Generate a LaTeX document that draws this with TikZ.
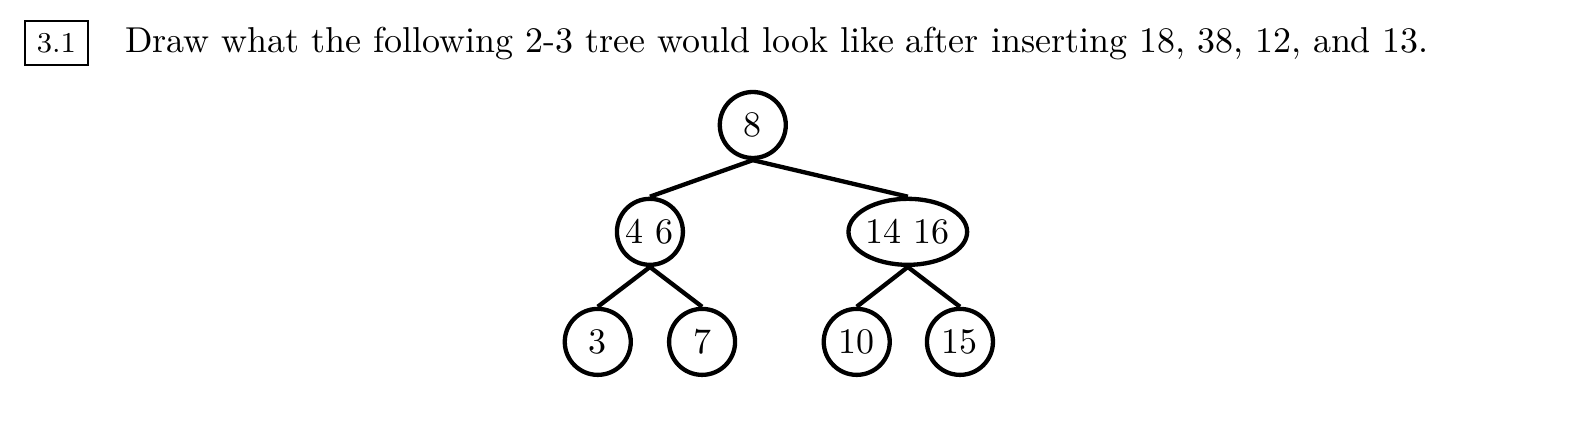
\documentclass[tikz,border=0pt]{standalone}
\usepackage{amsmath, amssymb}
\usetikzlibrary{positioning,shapes}

\begin{document}
\begin{tikzpicture}[
		num/.style={rectangle, draw, thin, font=\footnotesize},
		key/.style={circle, draw, very thick, minimum size = 18.35pt, inner sep = 0pt},
		keys/.style={ellipse, draw, very thick, minimum width = 32.8pt, minimum height = 18.35pt, inner sep = 0pt},
		onlevel/.style={on grid},
		]
		\useasboundingbox (0,0) rectangle (442.9pt,-124pt);

		%Question
		\node[num]	(qnum)	at (15.7pt,-11.95pt)	{3.1};
		\node[inner sep = 0pt]	(qtext)	[base right=9.9pt of qnum]	{Draw what the following 2-3 tree would look like after inserting 18, 38, 12, and 13.};

		%Main Nodes
		\node[key]	(root)	at (209.3pt,-34.75pt)	{8};
		\node[key, onlevel]	(n46)	[below left=29.7pt and 28.6pt of root]	{4 6};
		\node[keys, onlevel]	(n1416)	[below right=29.7pt and 43.1pt of root]	{14 16};
		\draw[very thick]	(root.south)	--	(n46.north);
		\draw[very thick]	(root.south)	--	(n1416.north);

		%Leaves
		\node[key, onlevel]	(n3)	[below left=30.6pt and 14.5pt of n46]	{3};
		\node[key, onlevel]	(n7)	[below right=30.6pt and 14.5pt of n46]	{7};
		\node[key, onlevel]	(n10)	[below left=30.6pt and 14.2pt of n1416]	{10};
		\node[key, onlevel]	(n15)	[below right=30.6pt and 14.5pt of n1416]	{15};
		\draw[very thick]	(n46.south)	--	(n3.north);
		\draw[very thick]	(n46.south)	--	(n7.north);
		\draw[very thick]	(n1416.south)	--	(n10.north);
		\draw[very thick]	(n1416.south)	--	(n15.north);

	\end{tikzpicture}
\end{document}
